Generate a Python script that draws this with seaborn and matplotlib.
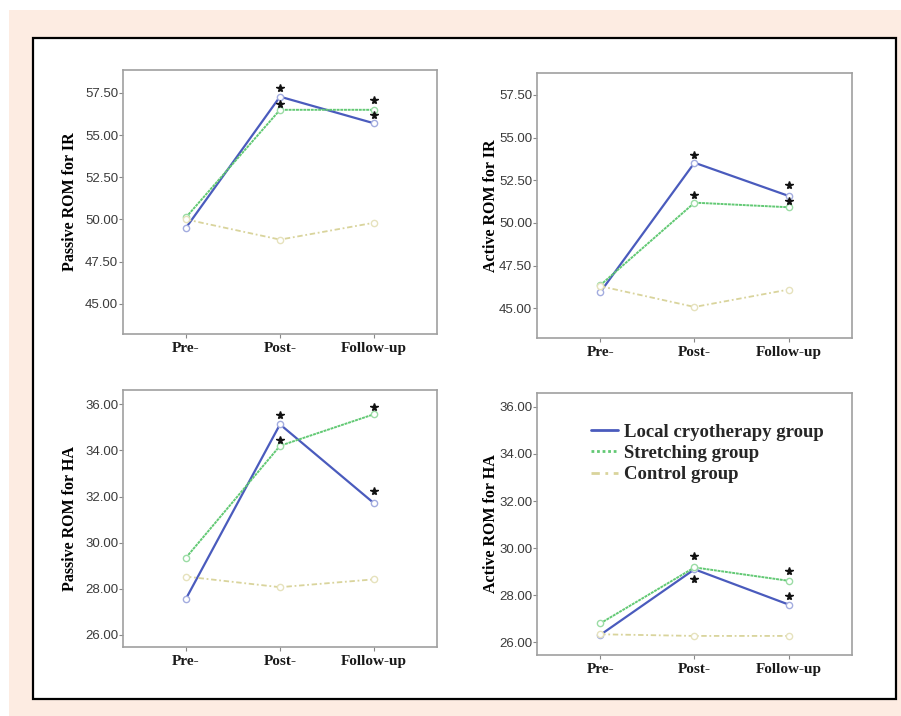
import matplotlib
matplotlib.use("Agg")
import matplotlib.pyplot as plt
import matplotlib.transforms as mtransforms
from matplotlib.lines import Line2D
from matplotlib.patches import Rectangle
import pandas as pd
import seaborn as sns

# Data
time_points = ['Pre-', 'Post-', 'Follow-up']
groups = ['Local cryotherapy group', 'Stretching group', 'Control group']

passive_ir_cryo = [49.50, 57.28, 55.70]
passive_ir_stretch = [50.12, 56.50, 56.50]
passive_ir_control = [50.00, 48.80, 49.80]

active_ir_cryo = [45.94, 53.53, 51.58]
active_ir_stretch = [46.35, 51.19, 50.92]
active_ir_control = [46.30, 45.08, 46.10]

passive_ha_cryo = [27.57, 35.13, 31.71]
passive_ha_stretch = [29.35, 34.20, 35.57]
passive_ha_control = [28.53, 28.07, 28.41]

active_ha_cryo = [26.31, 29.10, 27.60]
active_ha_stretch = [26.80, 29.18, 28.61]
active_ha_control = [26.34, 26.27, 26.27]

ir_ticks = [45.00, 47.50, 50.00, 52.50, 55.00, 57.50]
ha_ticks = [26.00, 28.00, 30.00, 32.00, 34.00, 36.00]

# time points marked with a significance star (treatment groups only)
star_times = ['Post-', 'Follow-up']

sns.set_style("white")
plt.rcParams['font.family'] = ['Liberation Sans', 'DejaVu Sans']

colors = {'Local cryotherapy group': '#4a5bbd',
          'Stretching group': '#62c974',
          'Control group': '#d9d49c'}
marker_colors = {'Local cryotherapy group': '#a3acdf',
                 'Stretching group': '#9bdca5',
                 'Control group': '#e6e2bd'}
line_styles = {'Local cryotherapy group': '-',
               'Stretching group': (0, (1.5, 0.4)),
               'Control group': (0, (3, 1.5, 1, 1.5))}
line_widths = {'Local cryotherapy group': 1.6,
               'Stretching group': 1.4,
               'Control group': 1.3}

fig = plt.figure(figsize=(9.01, 7.16), dpi=100)

# peach backdrop and framed white card
fig.patches.append(Rectangle((9 / 901, 0), 1, (716 - 10) / 716, transform=fig.transFigure,
                             facecolor='#fdece2', edgecolor='none', zorder=-3))
fig.patches.append(Rectangle((33 / 901, 1 - 699 / 716), 863 / 901, 661 / 716,
                             transform=fig.transFigure, facecolor='white',
                             edgecolor='black', linewidth=1.6, zorder=-2))

panels = [
    dict(rect=[0.1365, 0.5335, 0.3485, 0.3687], label='Passive ROM for IR',
         values=[passive_ir_cryo, passive_ir_stretch, passive_ir_control],
         ylim=(43.2, 58.86), ticks=ir_ticks, label_x=-0.143,
         star_px=[9, 8, 6, 10]),
    dict(rect=[0.596, 0.5279, 0.3496, 0.3705], label='Active ROM for IR',
         values=[active_ir_cryo, active_ir_stretch, active_ir_control],
         ylim=(43.26, 58.8), ticks=ir_ticks, label_x=-0.121,
         star_px=[8, 11, 8, 6]),
    dict(rect=[0.1365, 0.0968, 0.3485, 0.3585], label='Passive ROM for HA',
         values=[passive_ha_cryo, passive_ha_stretch, passive_ha_control],
         ylim=(25.49, 36.62), ticks=ha_ticks, label_x=-0.143,
         star_px=[9, 12.5, 6, 7]),
    dict(rect=[0.596, 0.0852, 0.3496, 0.3663], label='Active ROM for HA',
         values=[active_ha_cryo, active_ha_stretch, active_ha_control],
         ylim=(25.46, 36.6), ticks=ha_ticks, label_x=-0.121,
         star_px=[-10, 9, 11, 9.5]),
]

for i, p in enumerate(panels):
    ax = fig.add_axes(p['rect'])
    df = pd.DataFrame({
        'time': time_points * 3,
        'group': [g for g in groups for _ in time_points],
        'value': p['values'][0] + p['values'][1] + p['values'][2],
    })
    for g in groups:
        sub = df[df['group'] == g]
        sns.lineplot(data=sub, x='time', y='value', ax=ax, sort=False,
                     color=colors[g], linestyle=line_styles[g],
                     linewidth=line_widths[g], marker='o', markersize=4.5,
                     markerfacecolor='white', markeredgecolor=marker_colors[g],
                     markeredgewidth=1.0, errorbar=None, legend=False)

    # significance stars above / below the treatment group points
    k = 0
    for vals in p['values'][:2]:
        for t in star_times:
            xi = time_points.index(t)
            tr = mtransforms.offset_copy(ax.transData, fig=fig,
                                         y=p['star_px'][k] * 0.72, units='points')
            ax.plot([xi], [vals[xi]], marker='*', color='#111111', markersize=5.8,
                    linestyle='none', transform=tr, zorder=5)
            k += 1

    ax.set_xlim(-0.67, 2.67)
    ax.set_ylim(*p['ylim'])
    ax.set_yticks(p['ticks'])
    ax.set_yticklabels([f"{t:.2f}" for t in p['ticks']])
    ax.set_xticks(range(len(time_points)))
    ax.set_xticklabels(time_points, fontfamily='Liberation Serif',
                       fontweight='bold', fontsize=11, color='#1a1a1a')
    ax.set_xlabel('')
    ax.set_ylabel(p['label'], fontfamily='Liberation Serif', fontweight='bold',
                  fontsize=11.5, color='black')
    ax.yaxis.set_label_coords(p['label_x'], 0.5)

    for side in ['top', 'right', 'bottom', 'left']:
        ax.spines[side].set_visible(True)
        ax.spines[side].set_color('#a0a0a0')
        ax.spines[side].set_linewidth(1.2)
    ax.tick_params(axis='y', left=True, length=3, width=0.8, color='#888888',
                   pad=0.5, labelsize=9.5, labelcolor='#3a3a3a')
    ax.tick_params(axis='x', bottom=True, length=3, width=0.8, color='#888888',
                   pad=3)

    if i == 3:
        handles = [Line2D([], [], color=colors[g], linestyle=ls, linewidth=2)
                   for g, ls in zip(groups, ['-', (0, (1, 1)), (0, (3, 2, 1, 2))])]
        ax.legend(handles, groups, loc='upper left', bbox_to_anchor=(0.172, 0.882),
                  frameon=False, borderpad=0, borderaxespad=0, handlelength=1.45,
                  handletextpad=0.3, labelspacing=0.22,
                  prop={'family': 'Liberation Serif', 'weight': 'bold', 'size': 13.5})

fig.savefig("out.png", dpi=100)
